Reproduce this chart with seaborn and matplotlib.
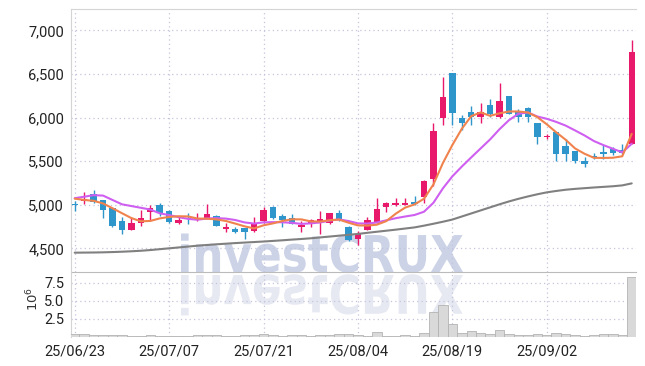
import numpy as np
import pandas as pd
import matplotlib
matplotlib.use("Agg")
import matplotlib.pyplot as plt
import seaborn as sns
from matplotlib.textpath import TextPath
from matplotlib.patches import PathPatch
from matplotlib.font_manager import FontProperties
from matplotlib.transforms import Affine2D
from matplotlib.ticker import FuncFormatter, FixedLocator

# ==============================
# Data (trading days, 08/15 is a holiday)
# ==============================
dates = pd.bdate_range("2025-06-23", "2025-09-15")
dates = dates[dates != pd.Timestamp("2025-08-15")]

opens = [5005, 5040, 5125, 5055, 4960, 4815, 4715, 4785, 4915, 4995,
         4930, 4790, 4845, 4835, 4845, 4875, 4725, 4720, 4730, 4695,
         4810, 4975, 4875, 4845, 4740, 4785, 4810, 4785, 4910, 4750,
         4605, 4710, 4800, 4970, 4995, 5000, 5035, 5085, 5300, 6000,
         6510, 5995, 6060, 6005, 6150, 6005, 6245, 6070, 6115, 5935,
         5780, 5830, 5675, 5615, 5505, 5560, 5610, 5635, 5630, 5700]
highs = [5040, 5150, 5170, 5060, 4965, 4865, 4855, 4940, 5000, 5020,
         4935, 4875, 4900, 4905, 5010, 4880, 4790, 4745, 4735, 4855,
         4970, 4980, 4895, 4890, 4815, 4840, 4930, 4905, 4935, 4755,
         4700, 4855, 5080, 5030, 5075, 5080, 5095, 5280, 5940, 6465,
         6515, 6035, 6130, 6170, 6210, 6400, 6250, 6095, 6120, 5940,
         5810, 5835, 5755, 5620, 5545, 5590, 5680, 5660, 5700, 6890]
lows = [4930, 5010, 5025, 4845, 4745, 4665, 4715, 4760, 4815, 4875,
        4795, 4780, 4780, 4810, 4840, 4755, 4690, 4680, 4605, 4690,
        4785, 4840, 4740, 4775, 4685, 4750, 4665, 4780, 4815, 4585,
        4540, 4705, 4795, 4915, 4990, 4995, 5000, 5025, 5220, 5910,
        5910, 5855, 5915, 5935, 6005, 5995, 6040, 5950, 5950, 5700,
        5750, 5505, 5505, 5475, 5435, 5530, 5525, 5570, 5585, 5695]
closes = [5000, 5065, 5030, 4945, 4760, 4715, 4785, 4845, 4965, 4905,
          4800, 4825, 4835, 4845, 4895, 4760, 4735, 4685, 4685, 4775,
          4940, 4845, 4825, 4780, 4770, 4825, 4835, 4900, 4820, 4590,
          4670, 4825, 4950, 5025, 5015, 5020, 5010, 5275, 5850, 6240,
          6050, 5940, 6005, 6060, 6045, 6195, 6045, 6005, 6005, 5775,
          5785, 5585, 5580, 5505, 5470, 5550, 5580, 5590, 5590, 6755]
volumes_m = [0.45, 0.45, 0.25, 0.25, 0.22, 0.22, 0.20, 0.20, 0.22, 0.20,
             0.12, 0.12, 0.10, 0.30, 0.30, 0.25, 0.20, 0.20, 0.22, 0.30,
             0.45, 0.28, 0.12, 0.25, 0.25, 0.12, 0.25, 0.25, 0.42, 0.42,
             0.25, 0.12, 0.75, 0.12, 0.12, 0.30, 0.12, 0.60, 3.50, 4.45,
             1.87, 0.56, 0.84, 0.56, 0.42, 0.98, 0.42, 0.24, 0.24, 0.42,
             0.28, 0.56, 0.42, 0.28, 0.10, 0.28, 0.42, 0.42, 0.24, 8.30]

# moving averages: first points need older data
ma5_head = [5070, 5055, 5045, 5015]
ma10_head = [5075, 5092, 5110, 5105, 5055, 5005, 4985, 4965, 4945]
ma60 = [4450, 4451, 4452, 4454, 4457, 4461, 4466, 4472, 4480, 4490,
        4500, 4510, 4520, 4530, 4538, 4546, 4553, 4560, 4566, 4572,
        4578, 4585, 4592, 4600, 4607, 4615, 4625, 4635, 4645, 4655,
        4665, 4678, 4690, 4702, 4714, 4727, 4740, 4760, 4782, 4805,
        4830, 4865, 4900, 4935, 4970, 5005, 5038, 5068, 5095, 5120,
        5142, 5158, 5172, 5182, 5190, 5198, 5205, 5212, 5222, 5245]

df = pd.DataFrame({"date": dates, "open": opens, "high": highs,
                   "low": lows, "close": closes, "volume": volumes_m})
df["x"] = np.arange(len(df))
df["ma5"] = df["close"].rolling(5).mean()
df.loc[:3, "ma5"] = ma5_head
df["ma10"] = df["close"].rolling(10).mean()
df.loc[:8, "ma10"] = ma10_head
df["ma60"] = ma60

UP = "#e8196b"
DOWN = "#2f96cb"
GRID = "#c4c4dc"

# ==============================
# Figure
# ==============================
sns.set_style("white")
plt.rcParams["font.family"] = ["Liberation Sans Narrow", "Roboto", "DejaVu Sans"]

fig = plt.figure(figsize=(6.45, 3.66), dpi=100)
fig.patch.set_facecolor("white")
ax = fig.add_axes([0.110, 0.257, 0.876, 0.718])
ax2 = fig.add_axes([0.110, 0.079, 0.876, 0.178], sharex=ax)
for a in (ax, ax2):
    a.set_facecolor("none")

# watermark with reflection
fp = FontProperties(family="DejaVu Sans", weight="bold")
tp = TextPath((0, 0), "investCRUX", size=1, prop=fp)
ext = tp.get_extents()
W, H = 645.0, 366.0
sx = 282 / ext.width / W
sy = 37 / 0.73 / H
x0 = 181 / W - ext.x0 * sx
y0 = 1 - 272 / H
main_tr = Affine2D().scale(sx, sy).translate(x0, y0) + fig.transFigure
refl_tr = Affine2D().scale(sx, -sy * 1.05).translate(x0, y0 - 3 / H) + fig.transFigure
fig.add_artist(PathPatch(tp, transform=main_tr, facecolor="#ccd3e7", lw=0, zorder=-2))
fig.add_artist(PathPatch(tp, transform=refl_tr, facecolor="#e7e9f2", lw=0, zorder=-2))

# candles
up = df["close"] >= df["open"]
colors = np.where(up, UP, DOWN)
ax.vlines(df["x"], df["low"], df["high"], colors=colors, lw=1.0, zorder=3)
body = (df["close"] - df["open"]).abs().clip(lower=14)
ax.bar(df["x"], body, bottom=np.minimum(df["open"], df["close"]),
       width=0.68, color=colors, lw=0, zorder=3)

# moving averages
sns.lineplot(x=df["x"], y=df["ma60"], ax=ax, color="#808080", lw=1.5, zorder=4)
sns.lineplot(x=df["x"], y=df["ma10"], ax=ax, color="#cf5ff0", lw=1.5, zorder=4)
sns.lineplot(x=df["x"], y=df["ma5"], ax=ax, color="#f0834d", lw=1.5, zorder=5)

# volume
ax2.bar(df["x"], df["volume"], width=1.0, color="#d9d9d9",
        edgecolor="#b3b3b3", lw=0.6, zorder=3)

# ==============================
# Axes styling
# ==============================
ticks = [0, 10, 20, 30, 40, 50]
ax.set_xlim(-0.4, 59.45)
ax.set_ylim(4229, 7244)
ax.yaxis.set_major_locator(FixedLocator([4500, 5000, 5500, 6000, 6500, 7000]))
ax.yaxis.set_major_formatter(FuncFormatter(lambda v, p: f"{v:,.0f}"))
ax2.set_ylim(0, 9.0)
ax2.yaxis.set_major_locator(FixedLocator([2.5, 5.0, 7.5]))
ax2.yaxis.set_major_formatter(FuncFormatter(lambda v, p: f"{v:.1f}"))
ax2.set_xticks(ticks)
ax2.set_xticklabels([df["date"][i].strftime("%y/%m/%d") for i in ticks])
plt.setp(ax.get_xticklabels(), visible=False)

for a in (ax, ax2):
    a.set_xlabel("")
    a.set_ylabel("")
    a.grid(True, color=GRID, linestyle=(0, (1, 2.5)), lw=0.9, zorder=0)
    a.tick_params(length=0, labelsize=10.5, labelcolor="#222222", pad=5)
    for s in a.spines.values():
        s.set_color("#d4d4d4")
        s.set_linewidth(0.8)
    a.spines["right"].set_visible(False)
ax.spines["bottom"].set_color("#bbbbbb")
ax2.spines["top"].set_visible(False)
ax2.spines["bottom"].set_visible(False)

ax2.text(-0.067, 0.58, r"$10^6$", rotation=90, transform=ax2.transAxes,
         ha="center", va="center", fontsize=9.5, color="#333333",
         family="DejaVu Sans")

fig.savefig("out.png", dpi=100)
plt.close(fig)
